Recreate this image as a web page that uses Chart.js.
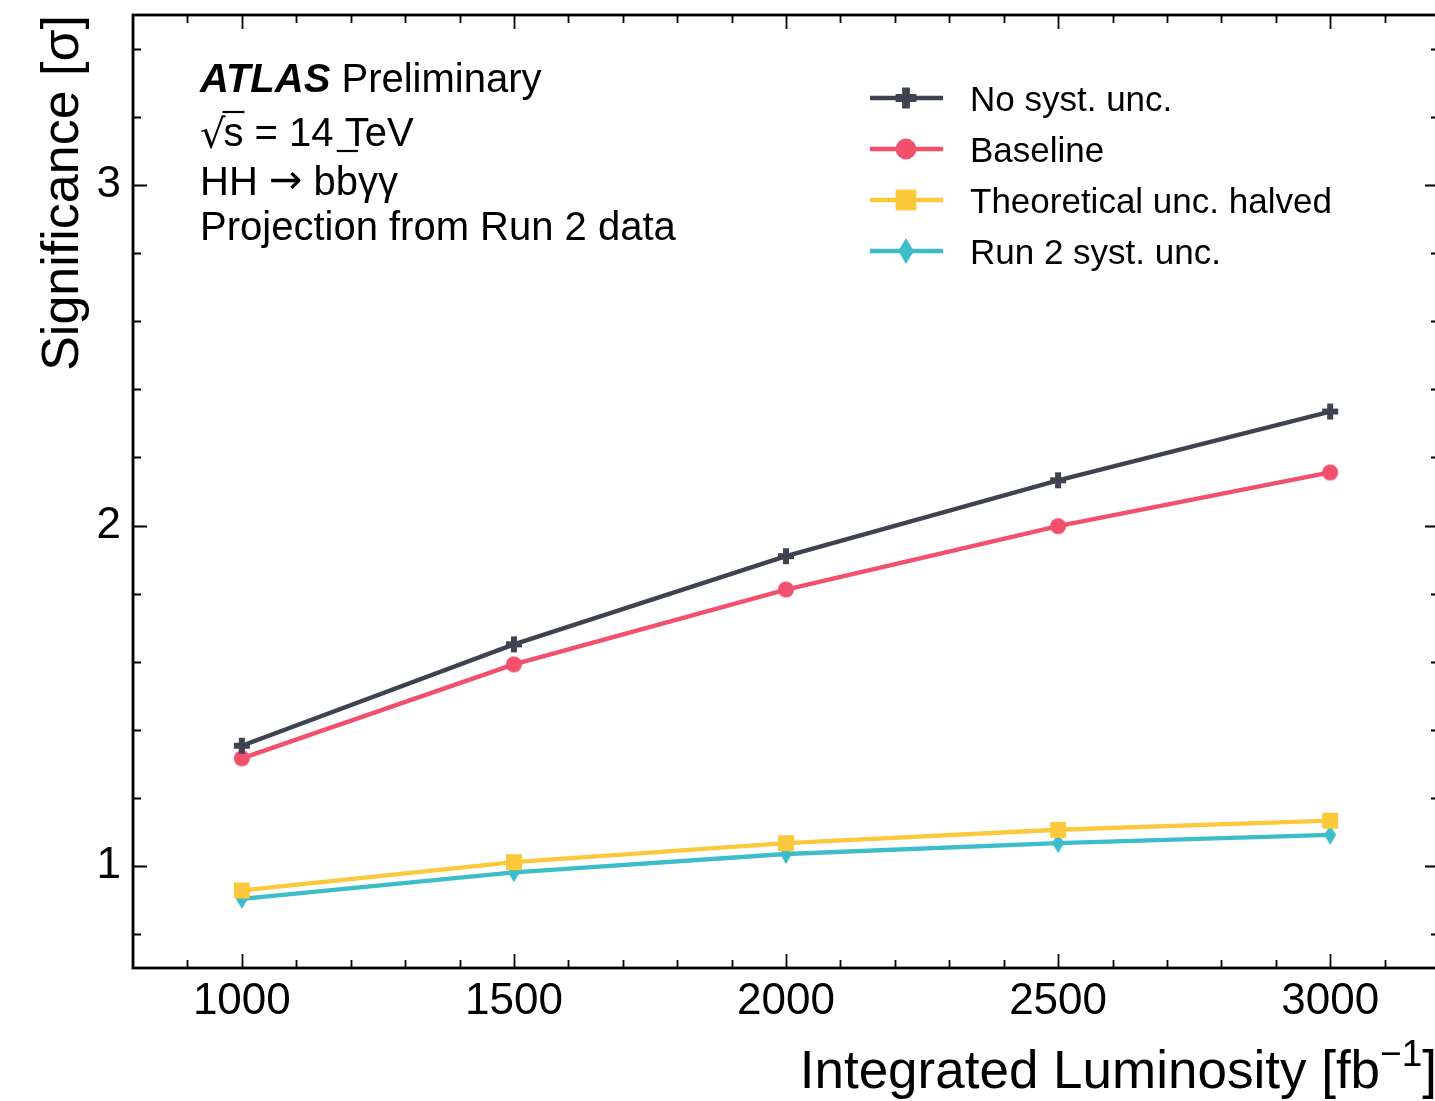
<!DOCTYPE html>
<html>
<head>
<meta charset="utf-8">
<script src="https://cdn.jsdelivr.net/npm/chart.js@4.4.1/dist/chart.umd.min.js"></script>
<style>
  html, body { margin: 0; padding: 0; background: #fff; overflow: hidden; }
  #wrap { width: 1435px; height: 1101px; overflow: hidden; }
  canvas { display: block; }
</style>
</head>
<body>
<div id="wrap"><canvas id="chart" width="1440" height="1101"></canvas></div>
<script>
// Integrated luminosity points [fb^-1]
const luminosity = [1000, 1500, 2000, 2500, 3000];
// Expected HH -> bbyy significance for each systematic scenario
const noSyst       = [1.353, 1.651, 1.910, 2.133, 2.335];
const baseline     = [1.316, 1.592, 1.812, 1.998, 2.156];
const theoryHalved = [0.928, 1.011, 1.067, 1.106, 1.133];
const run2Syst     = [0.903, 0.981, 1.035, 1.067, 1.091];
const seriesLabels = ['No syst. unc.', 'Baseline', 'Theoretical unc. halved', 'Run 2 syst. unc.'];
// Axis ticks
const xTickValues = [900, 1000, 1100, 1200, 1300, 1400, 1500, 1600, 1700, 1800, 1900, 2000,
                     2100, 2200, 2300, 2400, 2500, 2600, 2700, 2800, 2900, 3000, 3100];
const xLabelled = [1000, 1500, 2000, 2500, 3000];
const yTickValues = [0.8, 1.0, 1.2, 1.4, 1.6, 1.8, 2.0, 2.2, 2.4, 2.6, 2.8, 3.0, 3.2, 3.4];
const yLabelled = [1, 2, 3];

const FONT = '"Liberation Sans", Arial, Helvetica, sans-serif';
const colors = ['#3f4351', '#f2506c', '#fcc93d', '#3cbdc9'];
const markerKinds = ['plus', 'circle', 'square', 'diamond'];

// Marker bitmaps (filled plus, circle, square, thin diamond)
function makeMarker(kind, color, scale) {
  const s = Math.ceil(24 * scale);
  const c = document.createElement('canvas');
  c.width = s; c.height = s;
  const g = c.getContext('2d');
  const m = s / 2;
  g.fillStyle = color;
  g.beginPath();
  if (kind === 'plus') {
    const a = 8 * scale, t = 3 * scale;
    g.moveTo(m - t, m - a); g.lineTo(m + t, m - a); g.lineTo(m + t, m - t);
    g.lineTo(m + a, m - t); g.lineTo(m + a, m + t); g.lineTo(m + t, m + t);
    g.lineTo(m + t, m + a); g.lineTo(m - t, m + a); g.lineTo(m - t, m + t);
    g.lineTo(m - a, m + t); g.lineTo(m - a, m - t); g.lineTo(m - t, m - t);
    g.closePath();
  } else if (kind === 'circle') {
    g.arc(m, m, 8 * scale, 0, Math.PI * 2);
  } else if (kind === 'square') {
    const h = 8 * scale;
    g.rect(m - h, m - h, 2 * h, 2 * h);
  } else {
    const w = 6 * scale, h = 10 * scale;
    g.moveTo(m, m - h); g.lineTo(m + w, m); g.lineTo(m, m + h); g.lineTo(m - w, m);
    g.closePath();
  }
  g.fill();
  return c;
}

const plotMarkers = markerKinds.map((k, i) => makeMarker(k, colors[i], 1));
const legendMarkers = markerKinds.map((k, i) => makeMarker(k, colors[i], 1.3));

const seriesValues = [noSyst, baseline, theoryHalved, run2Syst];
const datasets = seriesValues.map((vals, i) => ({
  label: seriesLabels[i],
  data: luminosity.map((x, j) => ({ x: x, y: vals[j] })),
  borderColor: colors[i],
  backgroundColor: colors[i],
  borderWidth: 4.4,
  pointStyle: plotMarkers[i],
  pointRadius: 9,
  pointHoverRadius: 9,
  tension: 0,
  fill: false
}));

// Frame, inward ticks, annotation text, legend and axis titles
const decorations = {
  id: 'decorations',
  afterDraw(chart) {
    const ctx = chart.ctx;
    const a = chart.chartArea;
    const xs = chart.scales.x, ys = chart.scales.y;
    ctx.save();
    ctx.strokeStyle = '#000';
    ctx.lineCap = 'butt';

    // ticks on all four sides, pointing inward
    ctx.lineWidth = 1.8;
    xTickValues.forEach(v => {
      const px = Math.round(xs.getPixelForValue(v)) + 0.5;
      const len = xLabelled.includes(v) ? 14 : 8;
      ctx.beginPath();
      ctx.moveTo(px, a.bottom); ctx.lineTo(px, a.bottom - len);
      ctx.moveTo(px, a.top); ctx.lineTo(px, a.top + len);
      ctx.stroke();
    });
    yTickValues.forEach(v => {
      const py = Math.round(ys.getPixelForValue(v)) + 0.5;
      const len = yLabelled.some(l => Math.abs(l - v) < 1e-9) ? 14 : 8;
      ctx.beginPath();
      ctx.moveTo(a.left, py); ctx.lineTo(a.left + len, py);
      ctx.moveTo(a.right, py); ctx.lineTo(a.right - len, py);
      ctx.stroke();
    });

    // frame
    ctx.lineWidth = 2.8;
    ctx.strokeRect(a.left, a.top, a.right - a.left, a.bottom - a.top);

    // annotation block
    ctx.fillStyle = '#000';
    ctx.textBaseline = 'alphabetic';
    ctx.textAlign = 'left';
    const fs = 40;
    const x0 = 200;
    ctx.font = 'italic bold ' + fs + 'px ' + FONT;
    ctx.fillText('ATLAS', x0, 92);
    const w = ctx.measureText('ATLAS').width;
    ctx.font = fs + 'px ' + FONT;
    ctx.fillText(' Preliminary', x0 + w, 92);

    // sqrt(s) = 14 TeV
    const y2 = 146;
    ctx.font = fs + 'px "DejaVu Sans", ' + FONT;
    ctx.fillText('\u221A', x0, y2 + 2);
    const wr = ctx.measureText('\u221A').width;
    ctx.font = fs + 'px ' + FONT;
    const sx = x0 + wr - 2;
    ctx.fillText('s', sx, y2);
    const sw = ctx.measureText('s').width;
    ctx.lineWidth = 2.2;
    ctx.beginPath();
    ctx.moveTo(sx - 1, y2 - 34); ctx.lineTo(sx + sw + 1, y2 - 34);
    ctx.stroke();
    ctx.fillText(' = 14 TeV', sx + sw, y2);

    // HH -> bb(bar) yy
    const y3 = 195;
    ctx.fillText('HH ', x0, y3);
    let cx = x0 + ctx.measureText('HH ').width;
    ctx.font = fs + 'px "DejaVu Sans", ' + FONT;
    ctx.fillText('\u2192', cx, y3 - 2);
    cx += ctx.measureText('\u2192').width;
    ctx.font = fs + 'px ' + FONT;
    cx += ctx.measureText(' ').width;
    ctx.fillText('b', cx, y3);
    const bw = ctx.measureText('b').width;
    cx += bw;
    ctx.fillText('b', cx, y3);
    ctx.beginPath();
    ctx.moveTo(cx + 1, y3 - 44); ctx.lineTo(cx + bw, y3 - 44);
    ctx.stroke();
    cx += bw;
    ctx.fillText('\u03B3\u03B3', cx, y3);

    ctx.fillText('Projection from Run 2 data', x0, 240);

    // legend
    const lfs = 35;
    ctx.font = lfs + 'px ' + FONT;
    chart.data.datasets.forEach((ds, i) => {
      const ly = 98 + i * 51;
      ctx.strokeStyle = ds.borderColor;
      ctx.lineWidth = 4.4;
      ctx.beginPath();
      ctx.moveTo(870, ly); ctx.lineTo(943, ly);
      ctx.stroke();
      const img = legendMarkers[i];
      ctx.drawImage(img, 906 - img.width / 2, ly - img.height / 2);
      ctx.fillStyle = '#000';
      ctx.fillText(ds.label, 970, ly + lfs * 0.716 / 2);
    });

    // x axis title with superscript
    const tfs = 53;
    ctx.fillStyle = '#000';
    ctx.font = tfs + 'px ' + FONT;
    const xEnd = 1437;
    const closeW = ctx.measureText(']').width;
    ctx.font = Math.round(tfs * 0.7) + 'px ' + FONT;
    const supW = ctx.measureText('\u22121').width;
    ctx.font = tfs + 'px ' + FONT;
    const mainTxt = 'Integrated Luminosity [fb';
    const mainW = ctx.measureText(mainTxt).width;
    const xb = 1088;
    const tx = xEnd - closeW - supW - mainW;
    ctx.fillText(mainTxt, tx, xb);
    ctx.font = Math.round(tfs * 0.7) + 'px ' + FONT;
    ctx.fillText('\u22121', tx + mainW, xb - 22);
    ctx.font = tfs + 'px ' + FONT;
    ctx.fillText(']', tx + mainW + supW, xb);

    // y axis title
    ctx.font = '52px ' + FONT;
    ctx.save();
    ctx.translate(78, 15);
    ctx.rotate(-Math.PI / 2);
    ctx.textAlign = 'right';
    ctx.fillText('Significance [\u03C3]', 0, 0);
    ctx.restore();

    ctx.restore();
  }
};

new Chart(document.getElementById('chart'), {
  type: 'line',
  data: { datasets: datasets },
  options: {
    responsive: false,
    animation: false,
    events: [],
    layout: { autoPadding: false, padding: { top: 15, right: 1, left: 0, bottom: 0 } },
    plugins: {
      legend: { display: false },
      tooltip: { enabled: false },
      title: { display: false }
    },
    scales: {
      x: {
        type: 'linear',
        min: 800,
        max: 3200,
        grid: { display: false, drawTicks: false },
        border: { display: false },
        afterBuildTicks: s => { s.ticks = xTickValues.map(v => ({ value: v })); },
        afterFit: s => { s.height = 133; s.paddingLeft = 0; s.paddingRight = 0; },
        ticks: {
          autoSkip: false,
          maxRotation: 0,
          padding: 7,
          color: '#000',
          font: { family: FONT, size: 44 },
          callback: v => (xLabelled.includes(v) ? String(v) : '')
        }
      },
      y: {
        type: 'linear',
        min: 0.7,
        max: 3.5,
        grid: { display: false, drawTicks: false },
        border: { display: false },
        afterBuildTicks: s => { s.ticks = yTickValues.map(v => ({ value: v })); },
        afterFit: s => { s.width = 133; s.paddingTop = 0; s.paddingBottom = 0; },
        ticks: {
          autoSkip: false,
          padding: 12,
          color: '#000',
          font: { family: FONT, size: 44 },
          callback: v => {
            const l = yLabelled.find(t => Math.abs(t - v) < 1e-9);
            return l === undefined ? '' : String(l);
          }
        }
      }
    }
  },
  plugins: [decorations]
});
</script>
</body>
</html>
